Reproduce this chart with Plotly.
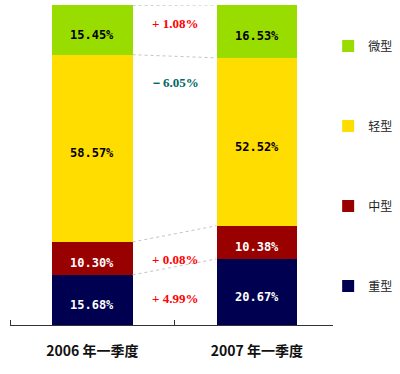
import plotly.graph_objects as go

# ---- data ----
periods = ["2006 年一季度", "2007 年一季度"]
series_names = ["重型", "中型", "轻型", "微型"]          # bottom -> top
share_2006 = [15.68, 10.30, 58.57, 15.45]
share_2007 = [20.67, 10.38, 52.52, 16.53]

# ---- styles ----
colors = ["#000050", "#990000", "#FFDD00", "#99DD00"]
label_colors = ["white", "white", "black", "black"]
BAR_W = 0.49
# vertical placement (data units) of the change labels, per series
change_label_y = [8.4, 20.6, 75.9, 94.4]

fig = go.Figure()
values = [share_2006, share_2007]
xs = [0, 1]

n = len(series_names)
for i, name in enumerate(series_names):
    fig.add_trace(go.Bar(
        x=xs, y=[share_2006[i], share_2007[i]], name=name,
        marker=dict(color=colors[i], line=dict(width=0)),
        width=BAR_W, legendgroup=name, legendrank=n - i, hoverinfo="skip",
    ))

# cumulative boundaries
def cum(vals):
    out, s = [], 0
    for v in vals:
        s += v
        out.append(s)
    return out

c06, c07 = cum(share_2006), cum(share_2007)

# dotted connectors between bars at each segment boundary
for b06, b07 in zip(c06, c07):
    fig.add_trace(go.Scatter(
        x=[0 + BAR_W / 2, 1 - BAR_W / 2], y=[b06, b07], mode="lines",
        line=dict(color="#C4C4C4", width=1, dash="dot"),
        showlegend=False, hoverinfo="skip",
    ))

annotations = []
# labels inside segments
for xi, vals, cs in zip(xs, values, [c06, c07]):
    for i, v in enumerate(vals):
        annotations.append(dict(
            x=xi, y=cs[i] - v / 2, text=f"{v:.2f}%", showarrow=False,
            yshift=-5,
            font=dict(family="DejaVu Sans Mono", size=12, color=label_colors[i], weight="bold"),
        ))

# change labels
for i in range(n):
    d = share_2007[i] - share_2006[i]
    if d >= 0:
        txt, col = f"+ {d:.2f}%", "#FF0000"
    else:
        txt, col = f"－{abs(d):.2f}%", "#006666"
    annotations.append(dict(
        x=0.5, y=change_label_y[i], text=txt, showarrow=False,
        font=dict(family="Liberation Serif", size=13, color=col, weight="bold"),
    ))

fig.update_layout(
    width=400, height=374,
    margin=dict(l=10, r=67, t=5, b=49, autoexpand=False),
    paper_bgcolor="white", plot_bgcolor="white",
    barmode="stack", bargap=0,
    showlegend=True,
    legend=dict(
        x=0.985, xanchor="left", y=0.917, yanchor="top",
        traceorder="grouped", tracegroupgap=61,
        font=dict(family="Noto Sans CJK SC", size=12, color="#222222"),
        itemclick=False, itemdoubleclick=False,
        bgcolor="rgba(0,0,0,0)",
    ),
    xaxis=dict(
        range=[-0.5, 1.463], tickvals=xs, ticktext=periods,
        showline=True, linecolor="#333333", linewidth=1,
        ticks="", showgrid=False, zeroline=False,
        ticklabelstandoff=13, automargin=False,
        tickfont=dict(family="Noto Sans CJK SC", size=14, color="#111111", weight="bold"),
        minor=dict(tickvals=[-0.5, 0.5], ticks="inside", ticklen=5, tickcolor="#333333", showgrid=False),
        fixedrange=True,
    ),
    yaxis=dict(range=[0, 100.1], visible=False, fixedrange=True),
    annotations=annotations,
)

fig.write_html(
    "out.html",
    config={"displayModeBar": False},
    post_script="document.body.style.margin='0';",
)
